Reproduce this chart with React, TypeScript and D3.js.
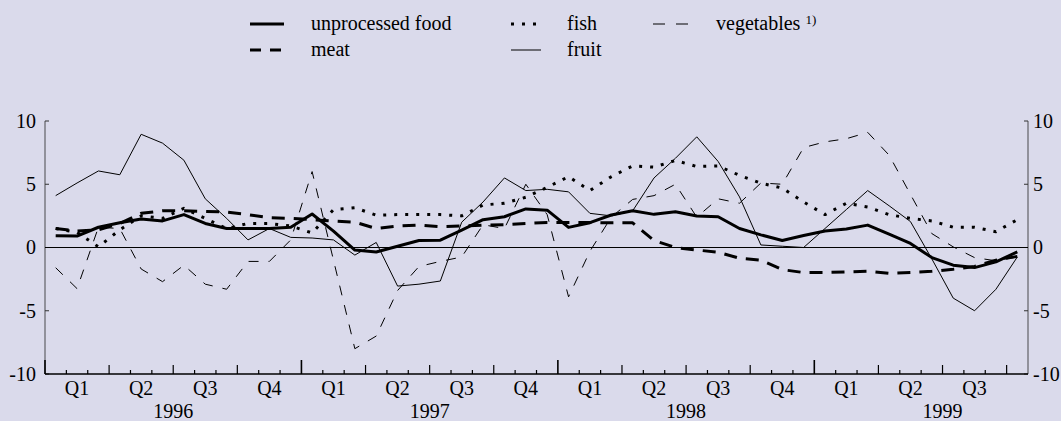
import React, { useEffect, useRef } from 'react';
import * as d3 from 'd3';

// monthly observations, Jan 1996 .. Oct 1999 (annual % changes)
const years = ['1996', '1997', '1998', '1999'];
const quarterLabels = ['Q1', 'Q2', 'Q3', 'Q4'];
const yTicks = [10, 5, 0, -5, -10];

const food = [
  0.93, 0.9, 1.6, 1.95, 2.25, 2.1, 2.6, 1.9, 1.5, 1.5, 1.5, 1.6,
  2.65, 1.3, -0.2, -0.35, 0.1, 0.55, 0.58, 1.38, 2.2, 2.43, 3.05, 2.95,
  1.59, 1.96, 2.57, 2.91, 2.62, 2.83, 2.49, 2.43, 1.5, 1.0, 0.55, 0.95,
  1.3, 1.46, 1.77, 1.06, 0.32, -0.8, -1.4, -1.59, -1.14, -0.34,
];
const meat = [
  1.5, 1.3, 1.4, 1.9, 2.7, 2.9, 2.9, 2.85, 2.8, 2.6, 2.35, 2.3,
  2.2, 2.1, 2.0, 1.5, 1.7, 1.77, 1.65, 1.7, 1.77, 1.8, 1.9, 1.98,
  1.98, 1.98, 1.95, 1.95, 0.55, 0.0, -0.2, -0.37, -0.85, -1.0, -1.75, -1.98,
  -1.98, -1.93, -1.88, -2.05, -1.98, -1.88, -1.72, -1.5, -1.0, -0.7,
];
const fish = [
  1.5, 1.2, 0.05, 1.4, 2.5, 2.3, 3.1, 2.3, 1.5, 1.9, 1.9, 1.7,
  1.15, 3.0, 3.15, 2.55, 2.6, 2.6, 2.6, 2.5, 3.36, 3.5, 3.97, 4.76,
  5.6, 4.5, 5.6, 6.45, 6.35, 6.88, 6.4, 6.45, 5.7, 5.08, 4.7, 3.6,
  2.6, 3.5, 3.2, 2.6, 2.3, 2.1, 1.6, 1.6, 1.25, 2.2,
];
const fruit = [
  4.1, 5.1, 6.05, 5.75, 8.95, 8.25, 6.9, 3.85, 2.3, 0.6, 1.5, 0.8,
  0.75, 0.6, -0.6, 0.4, -3.05, -2.9, -2.65, 2.0, 3.6, 5.5, 4.5, 4.6,
  4.4, 2.7, 2.5, 2.9, 5.5, 7.05, 8.75, 6.8, 4.0, 0.2, 0.1, 0.0,
  1.5, 3.0, 4.5, 3.3, 2.05, -0.9, -4.0, -5.0, -3.3, -0.75,
];
const vegetables = [
  -1.6, -3.25, 1.6, 1.5, -1.7, -2.7, -1.4, -2.9, -3.3, -1.1, -1.1, 0.6,
  6.0, -1.0, -8.0, -7.0, -3.4, -1.5, -1.1, -0.75, 1.8, 1.5, 5.0, 2.6,
  -3.9, -0.3, 2.4, 3.8, 4.1, 5.0, 2.4, 3.85, 3.5, 5.1, 5.0, 7.9,
  8.35, 8.6, 9.1, 7.3, 4.2, 1.1, 0.05, -0.8, -1.05, -0.75,
];

export default function App() {
  const svgRef = useRef<SVGSVGElement>(null);

  useEffect(() => {
    if (!svgRef.current) return;
    const W = 1061;
    const H = 421;
    const font = '"Liberation Serif", "Times New Roman", serif';
    const fs = 20;

    const svg = d3.select(svgRef.current);
    svg.selectAll('*').remove();
    svg.attr('width', W).attr('height', H);

    svg.append('rect').attr('width', W).attr('height', H).attr('fill', '#dadaeb');

    const nMonths = food.length;
    const x = d3.scaleLinear().domain([0, nMonths]).range([45, 1028]);
    const y = d3.scaleLinear().domain([-10, 10]).range([374, 121]);

    // side axes
    [x(0), x(nMonths)].forEach((ax, side) => {
      svg.append('line')
        .attr('x1', ax).attr('x2', ax)
        .attr('y1', y(10)).attr('y2', y(-10))
        .attr('stroke', '#6a6a70').attr('stroke-width', 1.3);
      const dir = side === 0 ? 1 : -1;
      yTicks.forEach(t => {
        svg.append('line')
          .attr('x1', ax).attr('x2', ax + dir * 4)
          .attr('y1', y(t)).attr('y2', y(t))
          .attr('stroke', '#333').attr('stroke-width', 1);
        svg.append('text')
          .attr('x', side === 0 ? 36 : 1033)
          .attr('y', y(t))
          .attr('dy', '0.34em')
          .attr('text-anchor', side === 0 ? 'end' : 'start')
          .attr('font-family', font).attr('font-size', fs)
          .text(t);
      });
    });

    // zero line and bottom axis
    svg.append('line')
      .attr('x1', x(0)).attr('x2', x(nMonths))
      .attr('y1', y(0)).attr('y2', y(0))
      .attr('stroke', '#000').attr('stroke-width', 1.2);
    svg.append('line')
      .attr('x1', x(0)).attr('x2', x(nMonths))
      .attr('y1', y(-10)).attr('y2', y(-10))
      .attr('stroke', '#000').attr('stroke-width', 1.3);

    d3.range(0, nMonths).forEach(m => {
      const len = m % 12 === 0 ? 14 : m % 3 === 0 ? 9 : 4;
      svg.append('line')
        .attr('x1', x(m)).attr('x2', x(m))
        .attr('y1', y(-10)).attr('y2', y(-10) - len)
        .attr('stroke', '#000').attr('stroke-width', m % 12 === 0 ? 1.6 : 1.2);
    });

    // quarter and year labels
    d3.range(0, Math.ceil(nMonths / 3)).forEach(q => {
      const c = q * 3 + 1.5;
      if (c > nMonths) return;
      svg.append('text')
        .attr('x', x(c)).attr('y', 395)
        .attr('text-anchor', 'middle')
        .attr('font-family', font).attr('font-size', fs)
        .text(quarterLabels[q % 4]);
    });
    years.forEach((yr, i) => {
      svg.append('text')
        .attr('x', x(i * 12 + 6)).attr('y', 418)
        .attr('text-anchor', 'middle')
        .attr('font-family', font).attr('font-size', fs)
        .text(yr);
    });

    // series
    const series = [
      { label: 'vegetables', data: vegetables, width: 1, dash: '10,10', col: 2, row: 0 },
      { label: 'fruit', data: fruit, width: 1, dash: null, col: 1, row: 1 },
      { label: 'fish', data: fish, width: 3, dash: '3,8', col: 1, row: 0 },
      { label: 'meat', data: meat, width: 3, dash: '13,9', col: 0, row: 1 },
      { label: 'unprocessed food', data: food, width: 3, dash: null, col: 0, row: 0 },
    ];

    const line = d3.line<number>()
      .x((d, i) => x(i + 0.5))
      .y(d => y(d));

    series.forEach(s => {
      svg.append('path')
        .datum(s.data)
        .attr('fill', 'none')
        .attr('stroke', '#000')
        .attr('stroke-width', s.width)
        .attr('stroke-dasharray', s.dash)
        .attr('stroke-linejoin', 'round')
        .attr('d', line);
    });

    // legend
    const colSym = [[250, 284], [511, 541], [653, 690]];
    const colText = [311, 567, 716];
    const rowY = [24, 50];
    series.forEach(s => {
      const [a, b] = colSym[s.col];
      const ly = rowY[s.row];
      svg.append('line')
        .attr('x1', a).attr('x2', b)
        .attr('y1', ly).attr('y2', ly)
        .attr('stroke', '#000')
        .attr('stroke-width', s.width)
        .attr('stroke-dasharray', s.label === 'meat' ? '11,9' : s.label === 'vegetables' ? '12,11' : s.dash);
      const t = svg.append('text')
        .attr('x', colText[s.col]).attr('y', ly)
        .attr('dy', '0.3em')
        .attr('font-family', font).attr('font-size', fs)
        .text(s.label);
      if (s.label === 'vegetables') {
        t.append('tspan').text(' ');
        t.append('tspan')
          .attr('font-size', 13)
          .attr('dy', '-0.45em')
          .text('1)');
      }
    });
  }, []);

  return (
    <svg
      ref={svgRef}
      style={{ position: 'absolute', left: 0, top: 0, display: 'block' }}
    />
  );
}
